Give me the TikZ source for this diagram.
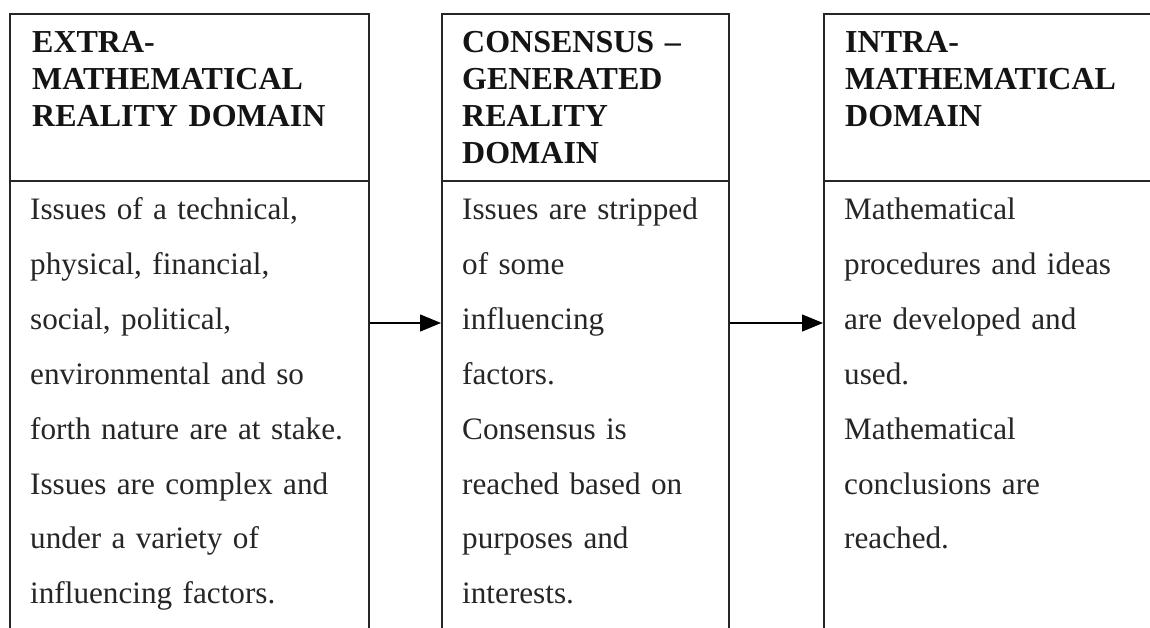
\documentclass[tikz,border=0pt]{standalone}
\usepackage{fontspec}
\setmainfont{Liberation Serif}
\usetikzlibrary{arrows.meta}
\begin{document}
\begin{tikzpicture}[x=1pt,y=-1pt,
  domainbox/.style={draw=black!85, line width=1.6pt, minimum width=#1, minimum height=900pt, inner sep=0pt, anchor=north west},
  headtext/.style={font=\fontsize{32}{37}\selectfont\bfseries, text=black!92, text width=420pt, align=left, inner sep=0pt, anchor=base west},
  bodytext/.style={font=\fontsize{31.2}{54.8}\selectfont, text=black!85, text width=420pt, align=left, inner sep=0pt, anchor=base west},
  divider/.style={draw=black!85, line width=1.6pt},
  flow/.style={draw=black, line width=1.4pt, -{Triangle[length=21pt,width=17pt]}}]
\useasboundingbox (0,0) rectangle (1150,628);
\fill[white] (0,0) rectangle (1150,628);
\clip (0,0) rectangle (1150,628);
% boxes
\node[domainbox=359pt] (A) at (9,13) {};
\node[domainbox=287pt] (B) at (441,13) {};
\node[domainbox=420pt] (C) at (823,13) {};
% header dividers
\draw[divider] (A.west |- 0,181) -- (A.east |- 0,181);
\draw[divider] (B.west |- 0,181) -- (B.east |- 0,181);
\draw[divider] (C.west |- 0,181) -- (C.east |- 0,181);
% headers
\node[headtext] (hA) at (32,53) {EXTRA-\\MATHEMATICAL\\REALITY DOMAIN};
\node[headtext] (hB) at (462,53) {CONSENSUS \textendash\\GENERATED\\REALITY\\DOMAIN};
\node[headtext] (hC) at (845,53) {INTRA-\\MATHEMATICAL\\DOMAIN};
% bodies
\node[bodytext] (bA) at (30,220) {Issues of a technical,\\physical, financial,\\social, political,\\environmental and so\\forth nature are at stake.\\Issues are complex and\\under a variety of\\influencing factors.};
\node[bodytext] (bB) at (462,220) {Issues are stripped\\of some\\influencing\\factors.\\Consensus is\\reached based on\\purposes and\\interests.};
\node[bodytext] (bC) at (844,220) {Mathematical\\procedures and ideas\\are developed and\\used.\\Mathematical\\conclusions are\\reached.};
% connectors
\draw[flow] (A.east |- 0,323) -- (B.west |- 0,323);
\draw[flow] (B.east |- 0,323) -- (C.west |- 0,323);
\end{tikzpicture}
\end{document}
